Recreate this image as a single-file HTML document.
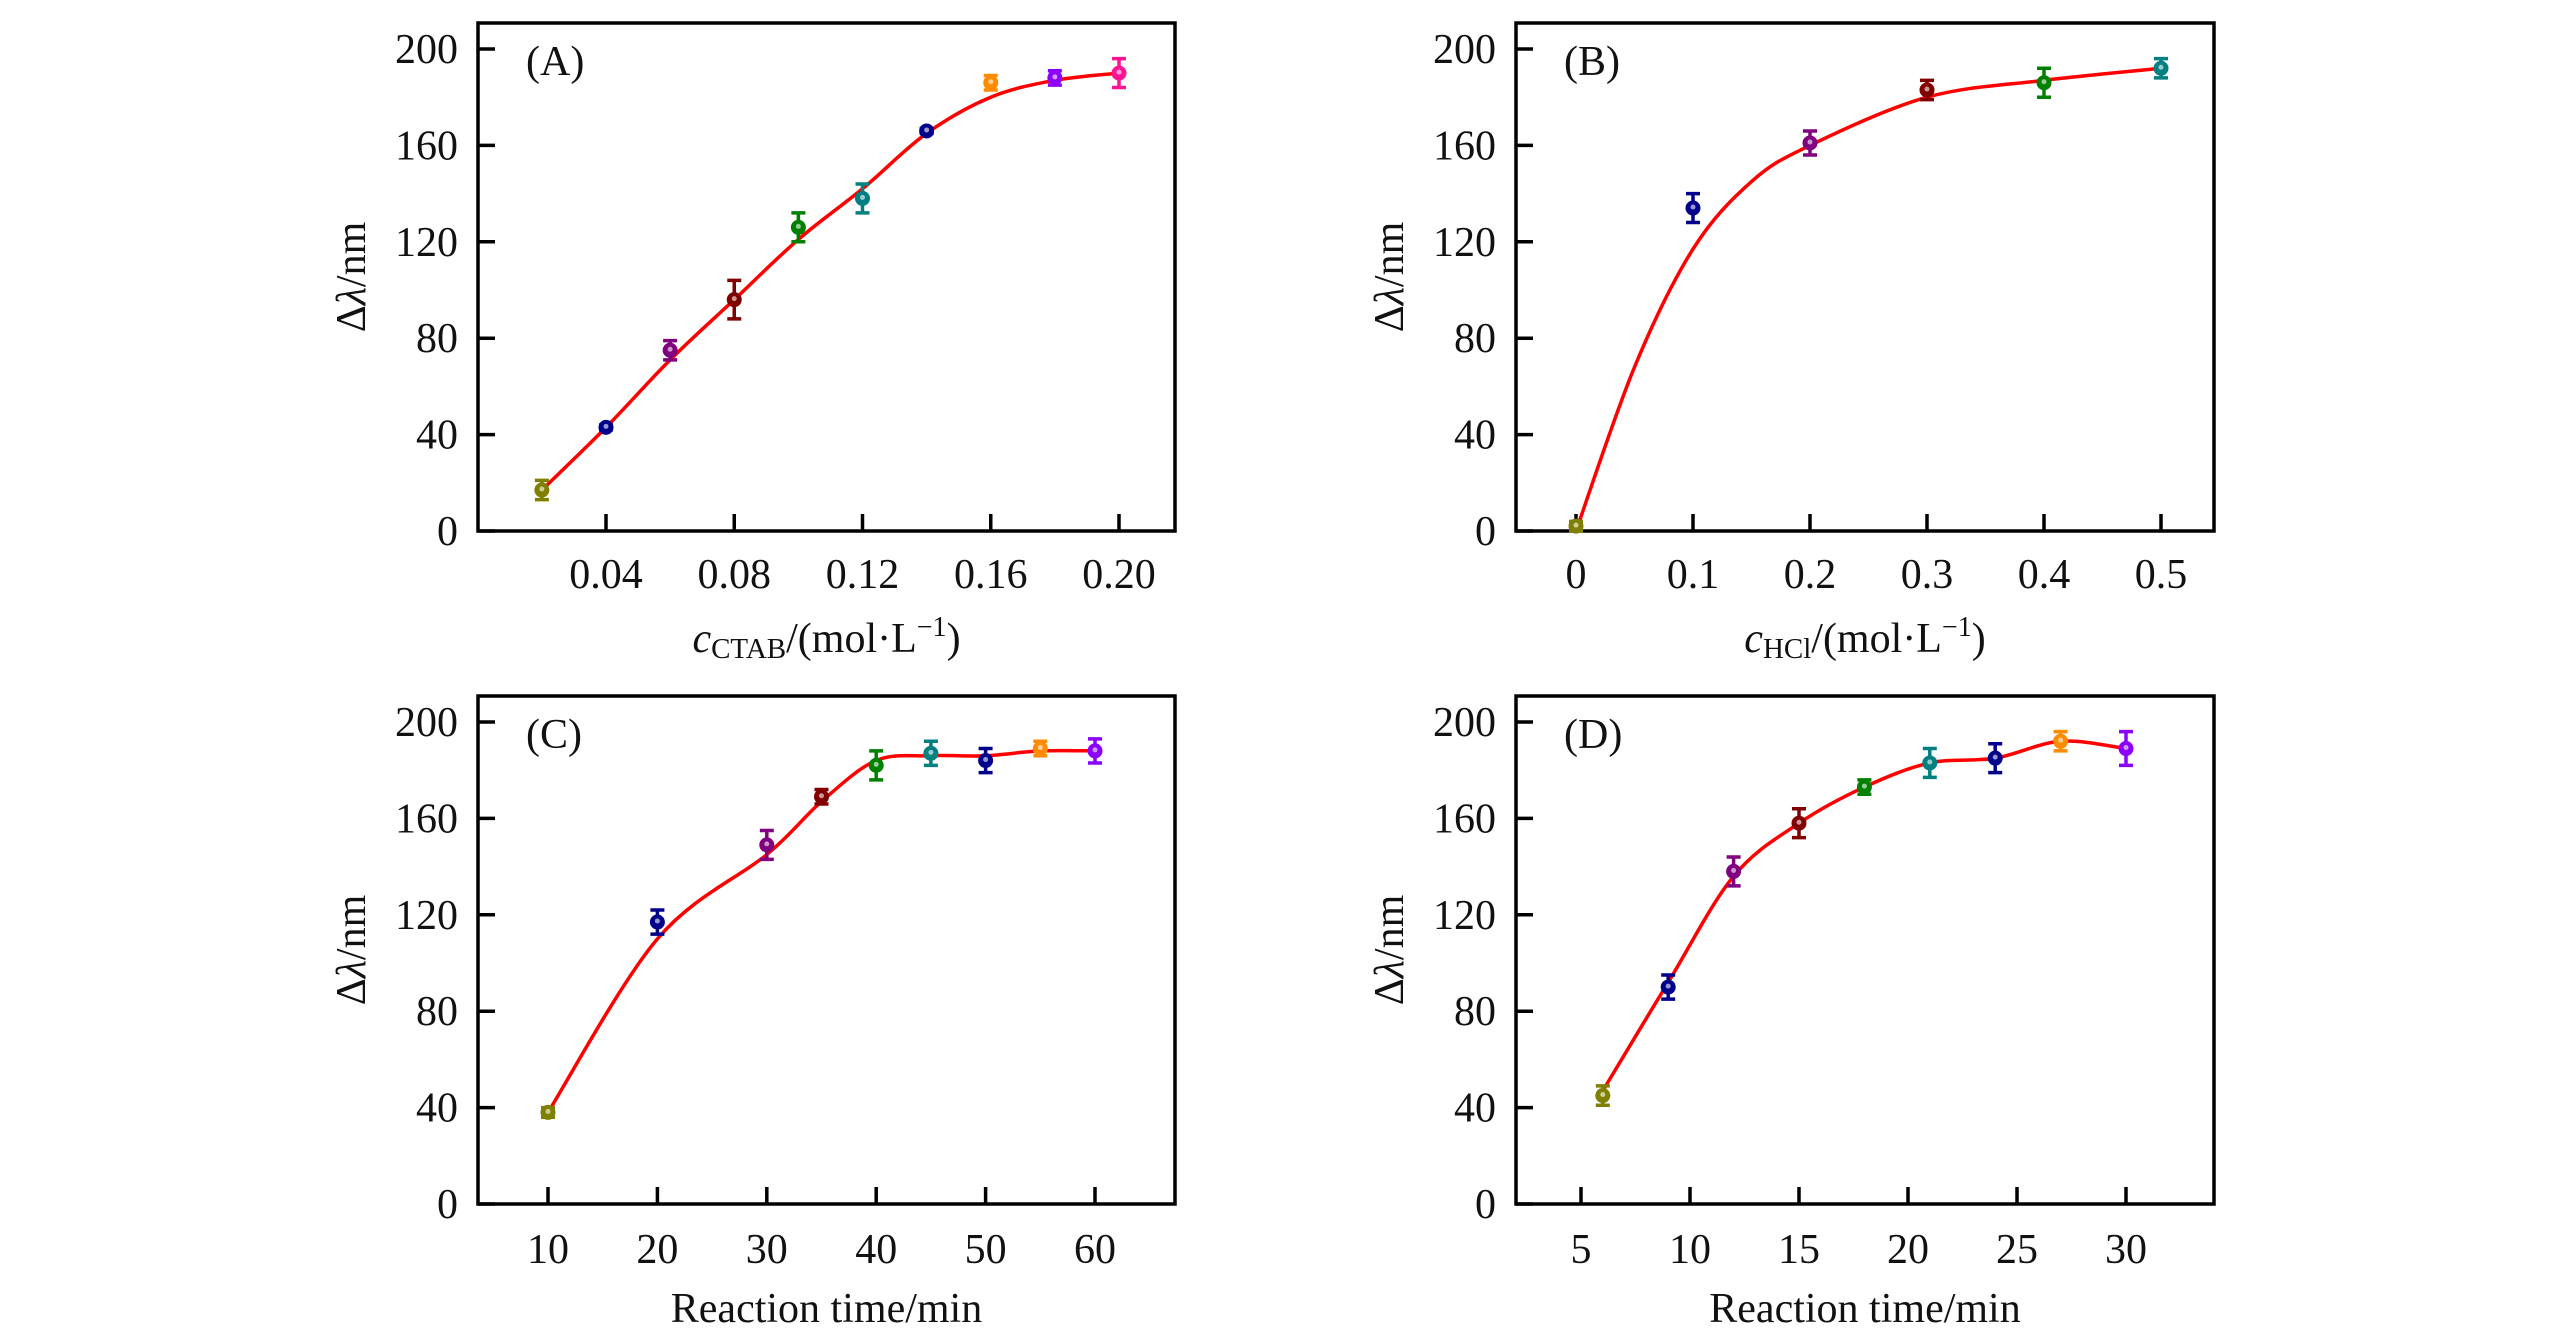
<!DOCTYPE html>
<html><head><meta charset="utf-8"><style>
html,body{margin:0;padding:0;background:#fff;}
svg{display:block;font-family:"Liberation Serif",serif;}
</style></head><body>
<svg id="chart" width="2567" height="1339" viewBox="0 0 2567 1339" xmlns="http://www.w3.org/2000/svg"></svg>
<script>
// Panel A
const aX = [0.02,0.04,0.06,0.08,0.10,0.12,0.14,0.16,0.18,0.20];
const aY = [17,43,75,96,126,138,166,186,188,190];
const aErr = [4,1,4,8,6,6,1,3,3,6];
const aFit = [17,43,71,96,121,142,165,180,187,190];
const aTicks = [0.04,0.08,0.12,0.16,0.20];
const aTickLabels = ["0.04","0.08","0.12","0.16","0.20"];
// Panel B
const bX = [0,0.1,0.2,0.3,0.4,0.5];
const bY = [2,134,161,183,186,192];
const bErr = [2,6,5,4,6,4];
const bFitX = [0,0.05,0.1,0.15,0.2,0.3,0.4,0.5];
const bFitY = [0,68,117,145,160,180,187,192];
const bTicks = [0,0.1,0.2,0.3,0.4,0.5];
const bTickLabels = ["0","0.1","0.2","0.3","0.4","0.5"];
// Panel C
const cX = [10,20,30,35,40,45,50,55,60];
const cY = [38,117,149,169,182,187,184,189,188];
const cErr = [2,5,6,3,6,5,5,3,5];
const cFit = [38,110,145,167,184,186,186,188,188];
const cTicks = [10,20,30,40,50,60];
const cTickLabels = ["10","20","30","40","50","60"];
// Panel D
const dX = [6,9,12,15,18,21,24,27,30];
const dY = [45,90,138,158,173,183,185,192,189];
const dErr = [4,5,6,6,3,6,6,4,7];
const dFit = [47,92,136,158,173,183,185,192,189];
const dTicks = [5,10,15,20,25,30];
const dTickLabels = ["5","10","15","20","25","30"];
// shared
const yTicks = [0,40,80,120,160,200];
const yTickLabels = ["0","40","80","120","160","200"];
const colorsA = ["#808000","#00008b","#800080","#800000","#008000","#008080","#00008b","#ff8c00","#8b00ff","#ff1493"];
const colorsB = ["#808000","#00008b","#800080","#800000","#008000","#008080"];
const colorsC = ["#808000","#00008b","#800080","#800000","#008000","#008080","#00008b","#ff8c00","#8b00ff"];

const NS="http://www.w3.org/2000/svg";
const svg=document.getElementById('chart');
function mk(tag,attrs,parent){const e=document.createElementNS(NS,tag);for(const k in attrs)e.setAttribute(k,attrs[k]);(parent||svg).appendChild(e);return e;}

function spline(pts){
  let d=`M${pts[0][0]},${pts[0][1]}`;
  for(let i=0;i<pts.length-1;i++){
    const p0=pts[Math.max(0,i-1)],p1=pts[i],p2=pts[i+1],p3=pts[Math.min(pts.length-1,i+2)];
    const c1=[p1[0]+(p2[0]-p0[0])/6,p1[1]+(p2[1]-p0[1])/6];
    const c2=[p2[0]-(p3[0]-p1[0])/6,p2[1]-(p3[1]-p1[1])/6];
    d+=` C${c1[0]},${c1[1]} ${c2[0]},${c2[1]} ${p2[0]},${p2[1]}`;
  }
  return d;
}

function panel(cfg){
  const g=mk('g',{});
  
  
  const L=cfg.left,R=cfg.right,T=cfg.top,B=cfg.bottom;
  const x=v=>cfg.x0px+(v-cfg.x0)*(cfg.x1px-cfg.x0px)/(cfg.x1-cfg.x0);
  const y=v=>B-(v)*(B-cfg.y200)/200;
  const frame=mk('rect',{x:L,y:T,width:R-L,height:B-T,fill:'none',stroke:'#000','stroke-width':3.5},g);
  
  
  yTicks.forEach((v,i)=>{
    const t=mk('line',{x1:L,x2:L+17,y1:y(v),y2:y(v),stroke:'#000','stroke-width':3.5},g);
    
    
    const lb=mk('text',{x:L-20,y:y(v)+14,'text-anchor':'end','font-size':42,fill:'#111'},g);
    
    
    lb.textContent=yTickLabels[i];
  });
  cfg.ticks.forEach((v,i)=>{
    const t=mk('line',{x1:x(v),x2:x(v),y1:B,y2:B-17,stroke:'#000','stroke-width':3.5},g);
    
    
    const lb=mk('text',{x:x(v),y:cfg.tickBase,'text-anchor':'middle','font-size':42,fill:'#111'},g);
    
    
    lb.textContent=cfg.tickLabels[i];
  });
  const pl=mk('text',{x:L+48,y:T+52,'font-size':42,fill:'#111'},g);
  
  
  pl.textContent=cfg.label;
  const yl=mk('text',{x:0,y:0,'text-anchor':'middle','font-size':42,fill:'#111',transform:`translate(${L-113},${(T+B)/2}) rotate(-90)`},g);
  
  
  yl.innerHTML='Δ<tspan font-style="italic">λ</tspan>/nm';
  const xl=mk('text',{x:(L+R)/2,y:cfg.titleBase,'text-anchor':'middle','font-size':42,fill:'#111'},g);
  
  
  xl.innerHTML=cfg.xtitle;
  const pts=cfg.fitX.map((v,i)=>[x(v),y(cfg.fitY[i])]);
  const c=mk('path',{d:spline(pts),fill:'none',stroke:'#ff0000','stroke-width':3.5},g);
  
  
  cfg.px.forEach((v,i)=>{
    const col=cfg.colors[i];
    const cx=x(v),cy=y(cfg.py[i]),e1=y(cfg.py[i]+cfg.err[i]),e2=y(cfg.py[i]-cfg.err[i]);
    const eb=mk('path',{d:`M${cx},${e1}V${e2}M${cx-7},${e1}H${cx+7}M${cx-7},${e2}H${cx+7}`,stroke:col,'stroke-width':3.5,fill:'none'},g);
    
    
    const m=mk('circle',{cx:cx,cy:cy,r:7.5,fill:col},g);
    
    
    mk('circle',{cx:cx,cy:cy-1,r:2.5,fill:'#fff','fill-opacity':0.6},g);
  });
}

const top1={top:23,bottom:531,y200:49,tickBase:588,titleBase:652};
const top2={top:696,bottom:1204,y200:722,tickBase:1263,titleBase:1322};
panel(Object.assign({name:'panel-a',label:'(A)',left:478,right:1175,x0:0.04,x1:0.20,x0px:606,x1px:1119,ticks:aTicks,tickLabels:aTickLabels,px:aX,py:aY,err:aErr,fitX:aX,fitY:aFit,colors:colorsA,
  xtitle:'<tspan font-style="italic">c</tspan><tspan font-size="29" dy="6">CTAB</tspan><tspan dy="-6">/(mol·L</tspan><tspan font-size="28" dy="-16">−1</tspan><tspan dy="16">)</tspan>'},top1));
panel(Object.assign({name:'panel-b',label:'(B)',left:1516,right:2214,x0:0,x1:0.5,x0px:1576,x1px:2161,ticks:bTicks,tickLabels:bTickLabels,px:bX,py:bY,err:bErr,fitX:bFitX,fitY:bFitY,colors:colorsB,
  xtitle:'<tspan font-style="italic">c</tspan><tspan font-size="29" dy="6">HCl</tspan><tspan dy="-6">/(mol·L</tspan><tspan font-size="28" dy="-16">−1</tspan><tspan dy="16">)</tspan>'},top1));
panel(Object.assign({name:'panel-c',label:'(C)',left:478,right:1175,x0:10,x1:60,x0px:548,x1px:1095,ticks:cTicks,tickLabels:cTickLabels,px:cX,py:cY,err:cErr,fitX:cX,fitY:cFit,colors:colorsC,
  xtitle:'Reaction time/min'},top2));
panel(Object.assign({name:'panel-d',label:'(D)',left:1516,right:2214,x0:5,x1:30,x0px:1581,x1px:2126,ticks:dTicks,tickLabels:dTickLabels,px:dX,py:dY,err:dErr,fitX:dX,fitY:dFit,colors:colorsC,
  xtitle:'Reaction time/min'},top2));
</script>
</body></html>
